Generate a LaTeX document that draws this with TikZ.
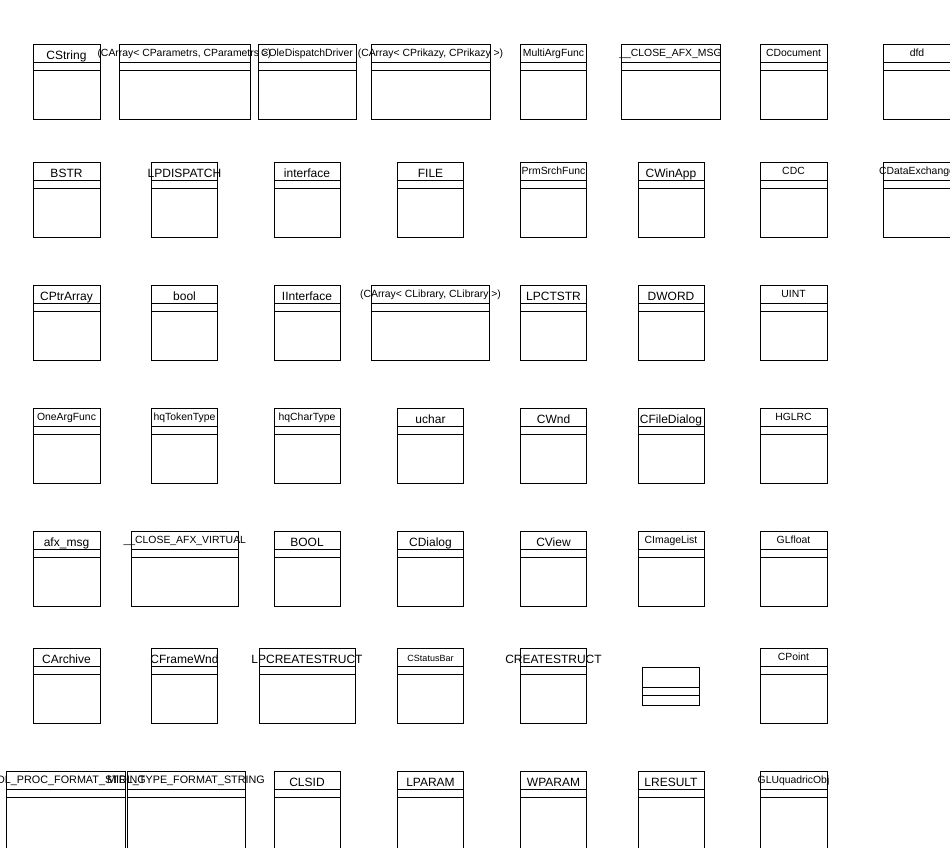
\documentclass[tikz,border=0pt]{standalone}
\usepackage{fontspec}
\setmainfont{Liberation Sans}

\tikzset{
  box/.style={line width=1pt},
  big/.style={font=\fontsize{12}{12}\selectfont, anchor=base, inner sep=0pt, yshift=-15.3pt},
  mid/.style={font=\fontsize{10.8}{11}\selectfont, anchor=base, inner sep=0pt, yshift=-12pt},
  small/.style={font=\fontsize{10.4}{10}\selectfont, anchor=base, inner sep=0pt, yshift=-12.9pt},
  tiny/.style={font=\fontsize{9}{9}\selectfont, anchor=base, inner sep=0pt, yshift=-13pt}
}

% #2 name, #3 left, #4 right, #5 top, #6 label style, #7 label; #1 height
\newcommand{\umlclass}[7][75.5]{%
  \draw[box] (#3,#5) rectangle (#4,#5+#1);
  \draw[box] (#3,#5+18.5) -- (#4,#5+18.5);
  \draw[box] (#3,#5+26) -- (#4,#5+26);
  \node[#6] (#2) at ({(#3+#4)/2},#5) {#7};
}

\begin{document}
\begin{tikzpicture}[x=1pt,y=-1pt]
\useasboundingbox (0,0) rectangle (950,847);

\umlclass{cstring}{33}{100}{44}{big}{CString}
\umlclass{carrayparam}{119}{250}{44}{small}{(CArray< CParametrs, CParametrs >)}
\umlclass{coledisp}{258}{356}{44}{small}{COleDispatchDriver}
\umlclass{carrayprik}{371}{490}{44}{small}{(CArray< CPrikazy, CPrikazy >)}
\umlclass{multiarg}{520.5}{586.5}{44}{small}{MultiArgFunc}
\umlclass{closemsg}{621}{720}{44}{small}{\_\_CLOSE\_AFX\_MSG}
\umlclass{cdocument}{760}{827}{44}{small}{CDocument}
\umlclass{dfd}{883}{951}{44}{small}{dfd}

\umlclass{bstr}{33}{100}{162}{big}{BSTR}
\umlclass{lpdispatch}{151.5}{217.5}{162}{big}{LPDISPATCH}
\umlclass{interface}{274}{340}{162}{big}{interface}
\umlclass{file}{397.5}{463.5}{162}{big}{FILE}
\umlclass{prmsrch}{520.5}{586.5}{162}{small}{PrmSrchFunc}
\umlclass{cwinapp}{638}{704}{162}{big}{CWinApp}
\umlclass{cdc}{760}{827}{162}{small}{CDC}
\umlclass{cdataex}{883}{951}{162}{small}{CDataExchange}

\umlclass{cptrarray}{33}{100}{285}{big}{CPtrArray}
\umlclass{bool}{151.5}{217.5}{285}{big}{bool}
\umlclass{iinterface}{274}{340}{285}{big}{IInterface}
\umlclass{carraylib}{371.5}{489.5}{285}{small}{(CArray< CLibrary, CLibrary >)}
\umlclass{lpctstr}{520.5}{586.5}{285}{big}{LPCTSTR}
\umlclass{dword}{638}{704}{285}{big}{DWORD}
\umlclass{uint}{760}{827}{285}{small}{UINT}

\umlclass{oneargfunc}{33}{100}{408}{small}{OneArgFunc}
\umlclass{tokentype}{151.5}{217.5}{408}{small}{hqTokenType}
\umlclass{chartype}{274}{340}{408}{small}{hqCharType}
\umlclass{uchar}{397.5}{463.5}{408}{big}{uchar}
\umlclass{cwnd}{520.5}{586.5}{408}{big}{CWnd}
\umlclass{cfiledlg}{638}{704}{408}{big}{CFileDialog}
\umlclass{hglrc}{760}{827}{408}{small}{HGLRC}

\umlclass{afxmsg}{33}{100}{531}{big}{afx\_msg}
\umlclass{closevirt}{131.3}{238.3}{531}{small}{\_\_CLOSE\_AFX\_VIRTUAL}
\umlclass{boolw}{274}{340}{531}{big}{BOOL}
\umlclass{cdialog}{397.5}{463.5}{531}{big}{CDialog}
\umlclass{cview}{520.5}{586.5}{531}{big}{CView}
\umlclass{cimagelist}{638}{704}{531}{small}{CImageList}
\umlclass{glfloat}{760}{827}{531}{small}{GLfloat}

\umlclass{carchive}{33}{100}{648}{big}{CArchive}
\umlclass{cframewnd}{151.5}{217.5}{648}{big}{CFrameWnd}
\umlclass{lpcreate}{259}{355}{648}{big}{LPCREATESTRUCT}
\umlclass{cstatusbar}{397.5}{463.5}{648}{tiny}{CStatusBar}
\umlclass{createstruct}{520.5}{586.5}{648}{big}{CREATESTRUCT}
\draw[box] (642,667) rectangle (699,705);
\draw[box] (642,687.3) -- (699,687.3);
\draw[box] (642,695) -- (699,695);
\coordinate (anon) at (670.5,667);
\umlclass{cpoint}{760}{827}{648}{small}{CPoint}

\umlclass[78]{midlproc}{6}{125}{771}{mid}{MIDL\_PROC\_FORMAT\_STRING}
\umlclass[78]{midltype}{127}{245}{771}{mid}{MIDL\_TYPE\_FORMAT\_STRING}
\umlclass[78]{clsid}{274}{340}{771}{big}{CLSID}
\umlclass[78]{lparam}{397.5}{463.5}{771}{big}{LPARAM}
\umlclass[78]{wparam}{520.5}{586.5}{771}{big}{WPARAM}
\umlclass[78]{lresult}{638}{704}{771}{big}{LRESULT}
\umlclass[78]{gluquad}{760}{827}{771}{small}{GLUquadricObj}
\end{tikzpicture}
\end{document}
